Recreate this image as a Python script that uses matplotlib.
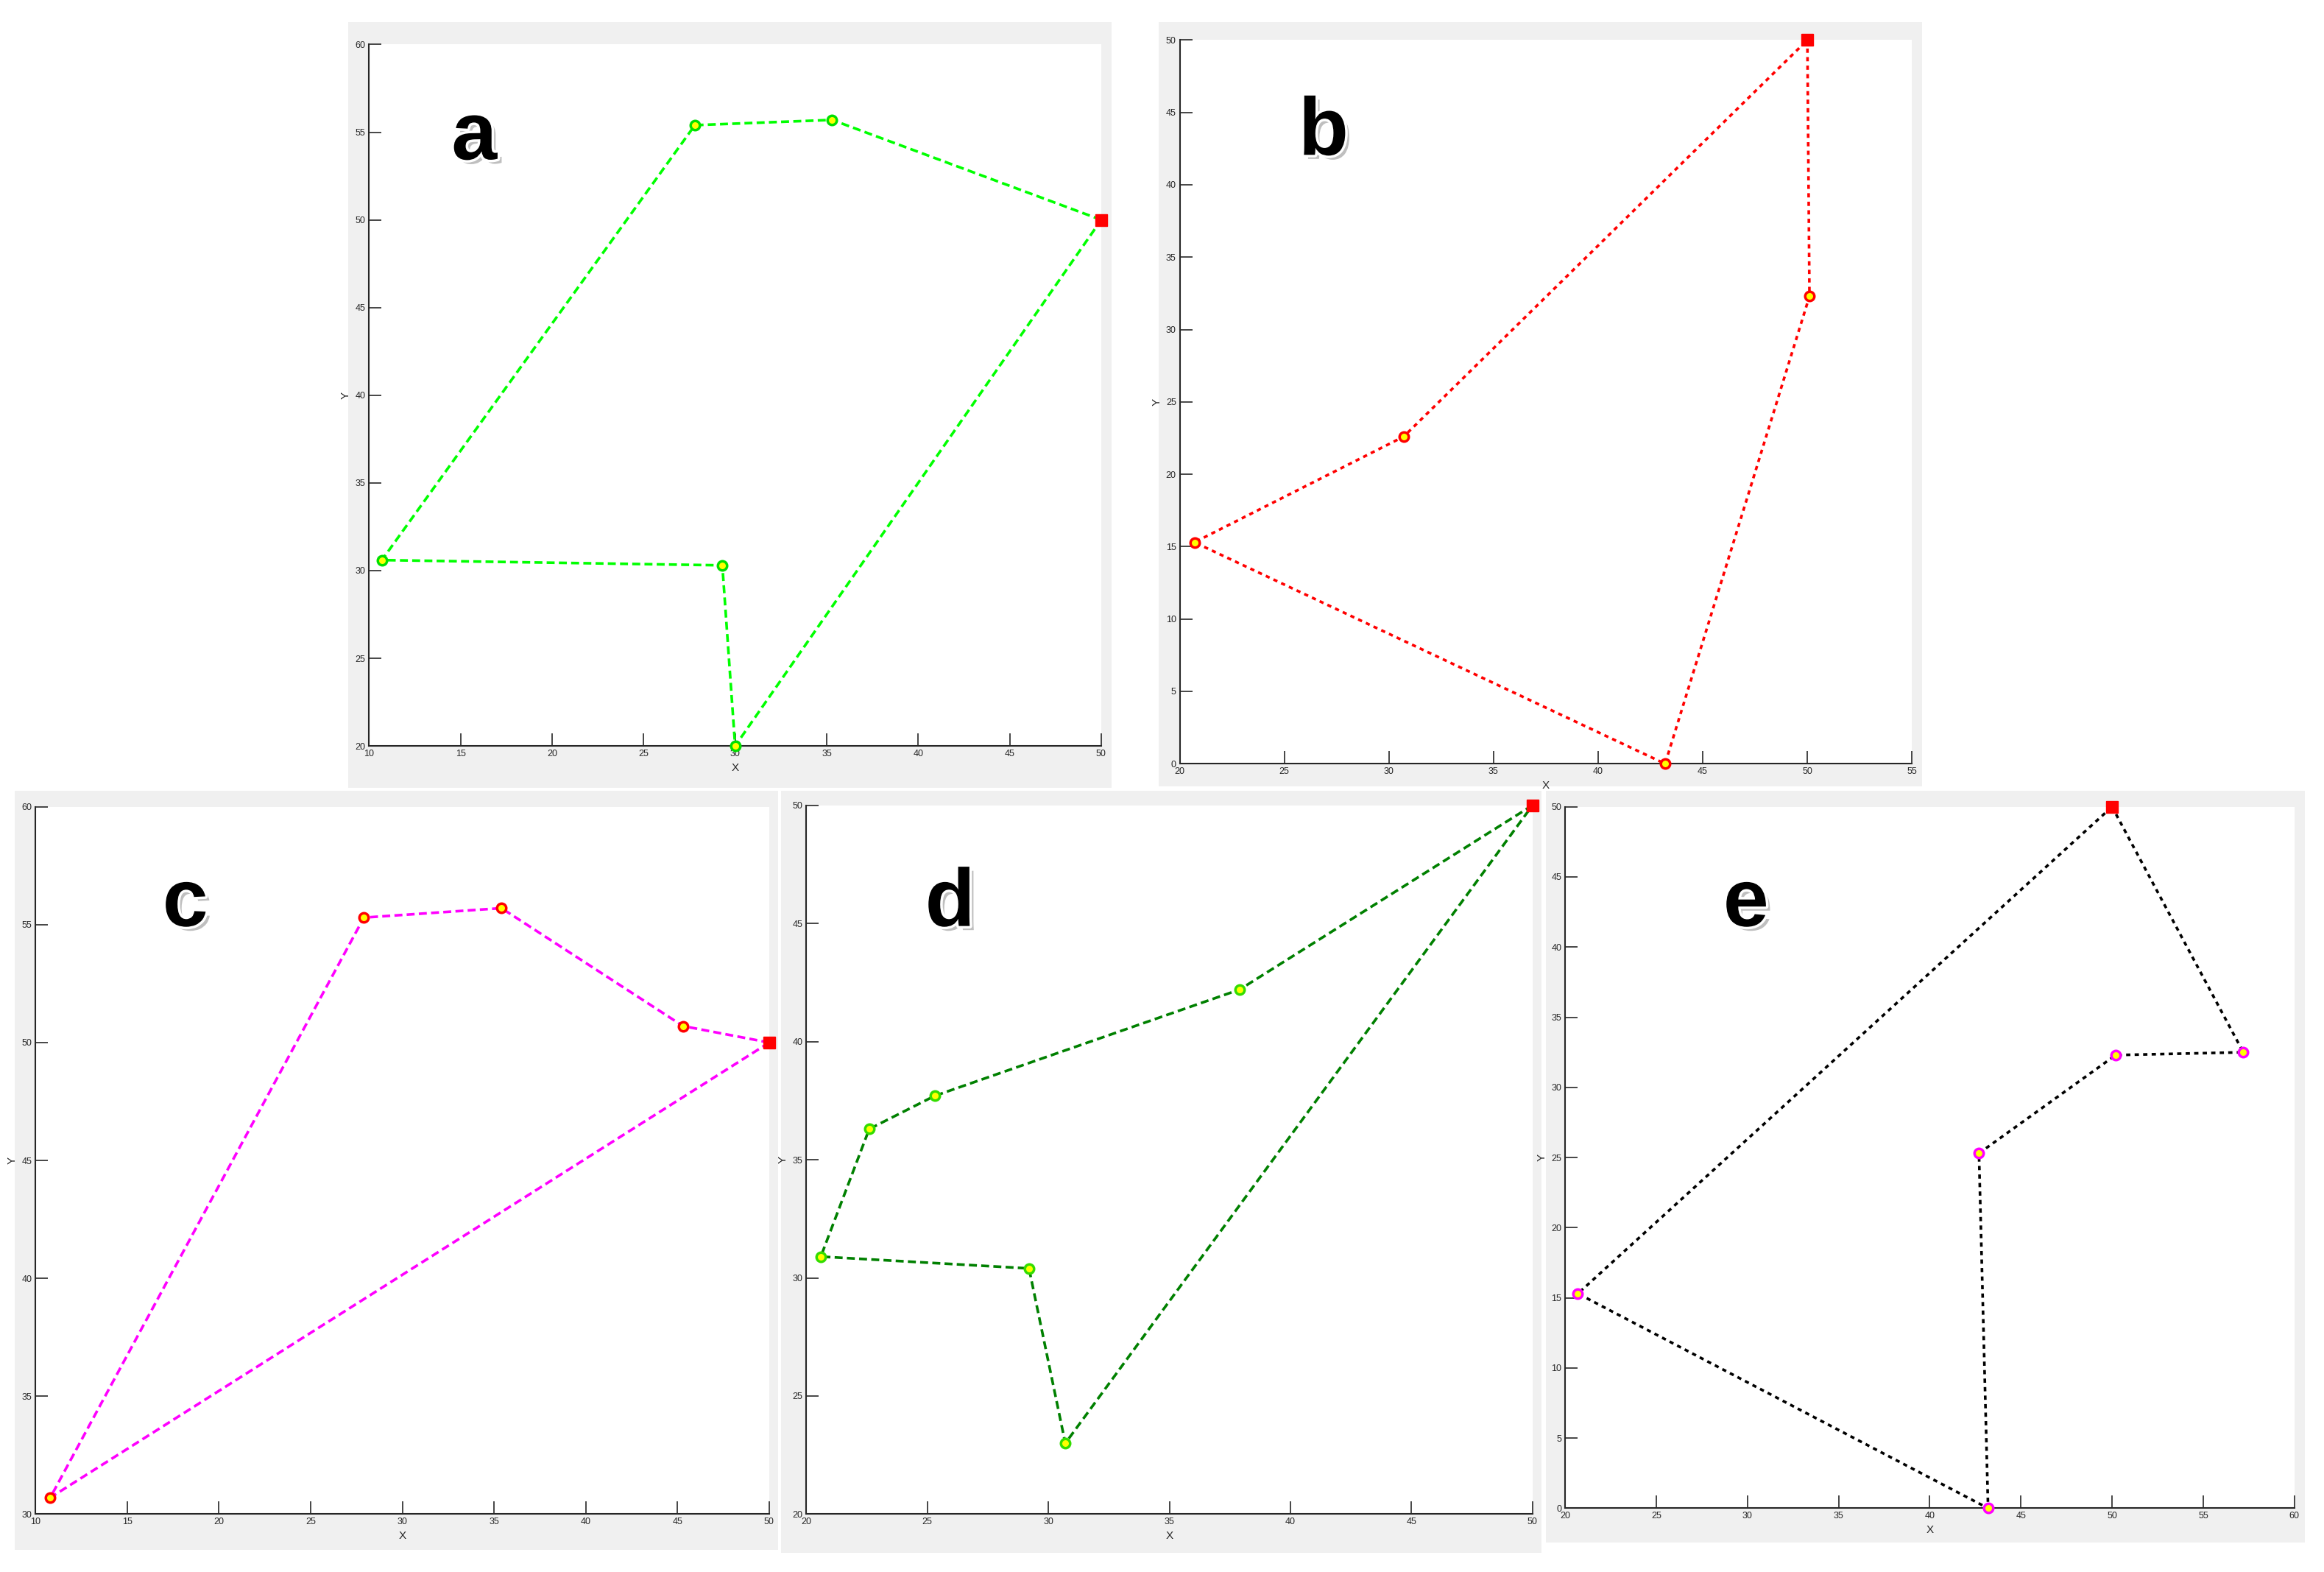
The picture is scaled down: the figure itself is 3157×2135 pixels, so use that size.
import matplotlib.pyplot as plt
import matplotlib.patheffects as pe
from matplotlib.patches import Rectangle

# route coordinates for each panel (closed tours, start/end at the red square)
a_x = [50, 35.3, 27.8, 10.7, 29.3, 30.0, 50]
a_y = [50, 55.7, 55.4, 30.6, 30.3, 20.0, 50]

b_x = [50, 50.1, 43.2, 20.7, 30.7, 50]
b_y = [50, 32.3, 0.0, 15.3, 22.6, 50]

c_x = [50, 45.3, 35.4, 27.9, 10.8, 50]
c_y = [50, 50.7, 55.7, 55.3, 30.7, 50]

d_x = [50, 37.9, 25.3, 22.6, 20.6, 29.2, 30.7, 50]
d_y = [50, 42.2, 37.7, 36.3, 30.9, 30.4, 23.0, 50]

e_x = [50, 57.2, 50.2, 42.7, 43.2, 20.7, 50]
e_y = [50, 32.5, 32.3, 25.3, 0.0, 15.3, 50]

W, H = 1568.0, 1060.0

def fig_box(x0, y0, x1, y1):
    return [x0 / W, 1 - y1 / H, (x1 - x0) / W, (y1 - y0) / H]

panels = [
    # label, xs, ys, line colour, dashes, marker edge, frame box, axes box, xlim, ylim, xticks, yticks, label pos
    ("a", a_x, a_y, "#00ff00", (3, 1.6), "#00e000", (235, 15, 750, 531), (249, 30, 743, 503),
     (10, 50), (20, 60), range(10, 51, 5), range(20, 61, 5), (320, 93)),
    ("b", b_x, b_y, "#ff0000", (1.6, 1.6), "#ff0000", (782, 15, 1297, 530), (796, 27, 1290, 515),
     (20, 55), (0, 50), range(20, 56, 5), range(0, 51, 5), (893, 90)),
    ("c", c_x, c_y, "#ff00ff", (3, 1.6), "#ff0000", (10, 533, 525, 1045), (24, 544, 519, 1021),
     (10, 50), (30, 60), range(10, 51, 5), range(30, 61, 5), (125, 610)),
    ("d", d_x, d_y, "#008000", (3, 1.6), "#33dd00", (527, 533, 1040, 1047), (544, 543, 1034, 1021),
     (20, 50), (20, 50), range(20, 51, 5), range(20, 51, 5), (641, 610)),
    ("e", e_x, e_y, "#000000", (1.6, 1.6), "#ff00ff", (1043, 533, 1555, 1040), (1056, 544, 1548, 1017),
     (20, 60), (0, 50), range(20, 61, 5), range(0, 51, 5), (1178, 610)),
]

fig = plt.figure(figsize=(31.57, 21.35), dpi=100)
fig.patch.set_facecolor("white")
plt.rcParams['font.family'] = ['Liberation Sans', 'DejaVu Sans']

for (lab, xs, ys, lc, dash, mec, frame, box, xl, yl, xt, yt, lpos) in panels:
    fx0, fy0, fx1, fy1 = frame
    fig.patches.append(Rectangle((fx0 / W, 1 - fy1 / H), (fx1 - fx0) / W, (fy1 - fy0) / H,
                                 transform=fig.transFigure, facecolor="#f0f0f0",
                                 edgecolor="none", zorder=-10))
    ax = fig.add_axes(fig_box(*box))
    ax.set_zorder(1)
    ax.set_facecolor("white")
    ax.plot(xs, ys, color=lc, linestyle=(0, dash), linewidth=2.6, zorder=2)
    ax.plot(xs[1:-1], ys[1:-1], linestyle="none", marker="o", markersize=9,
            markerfacecolor="#ffff00", markeredgecolor=mec, markeredgewidth=2.5, zorder=3,
            clip_on=False)
    ax.plot(xs[0], ys[0], linestyle="none", marker="s", markersize=11,
            markerfacecolor="#ff0000", markeredgecolor="#ff0000", zorder=4, clip_on=False)
    ax.set_xlim(*xl)
    ax.set_ylim(*yl)
    ax.set_xticks(list(xt))
    ax.set_yticks(list(yt))
    ax.tick_params(direction="in", length=12, labelsize=9, colors="#262626", width=1.2)
    for s in ["left", "bottom"]:
        ax.spines[s].set_color("#262626")
        ax.spines[s].set_linewidth(1.5)
    for s in ["top", "right"]:
        ax.spines[s].set_visible(False)
    ax.set_xlabel("X", fontsize=11, color="#262626", labelpad=4)
    ax.set_ylabel("Y", fontsize=11, color="#262626", labelpad=4)

    lx, ly = lpos
    fig.text(lx / W, 1 - ly / H, lab, fontsize=80, fontweight="bold", color="black",
             ha="center", va="center", zorder=10,
             path_effects=[pe.SimplePatchShadow(offset=(4, -4), alpha=0.25),
                           pe.withStroke(linewidth=5, foreground="white")])

fig.savefig("out.png", dpi=100, facecolor="white")
